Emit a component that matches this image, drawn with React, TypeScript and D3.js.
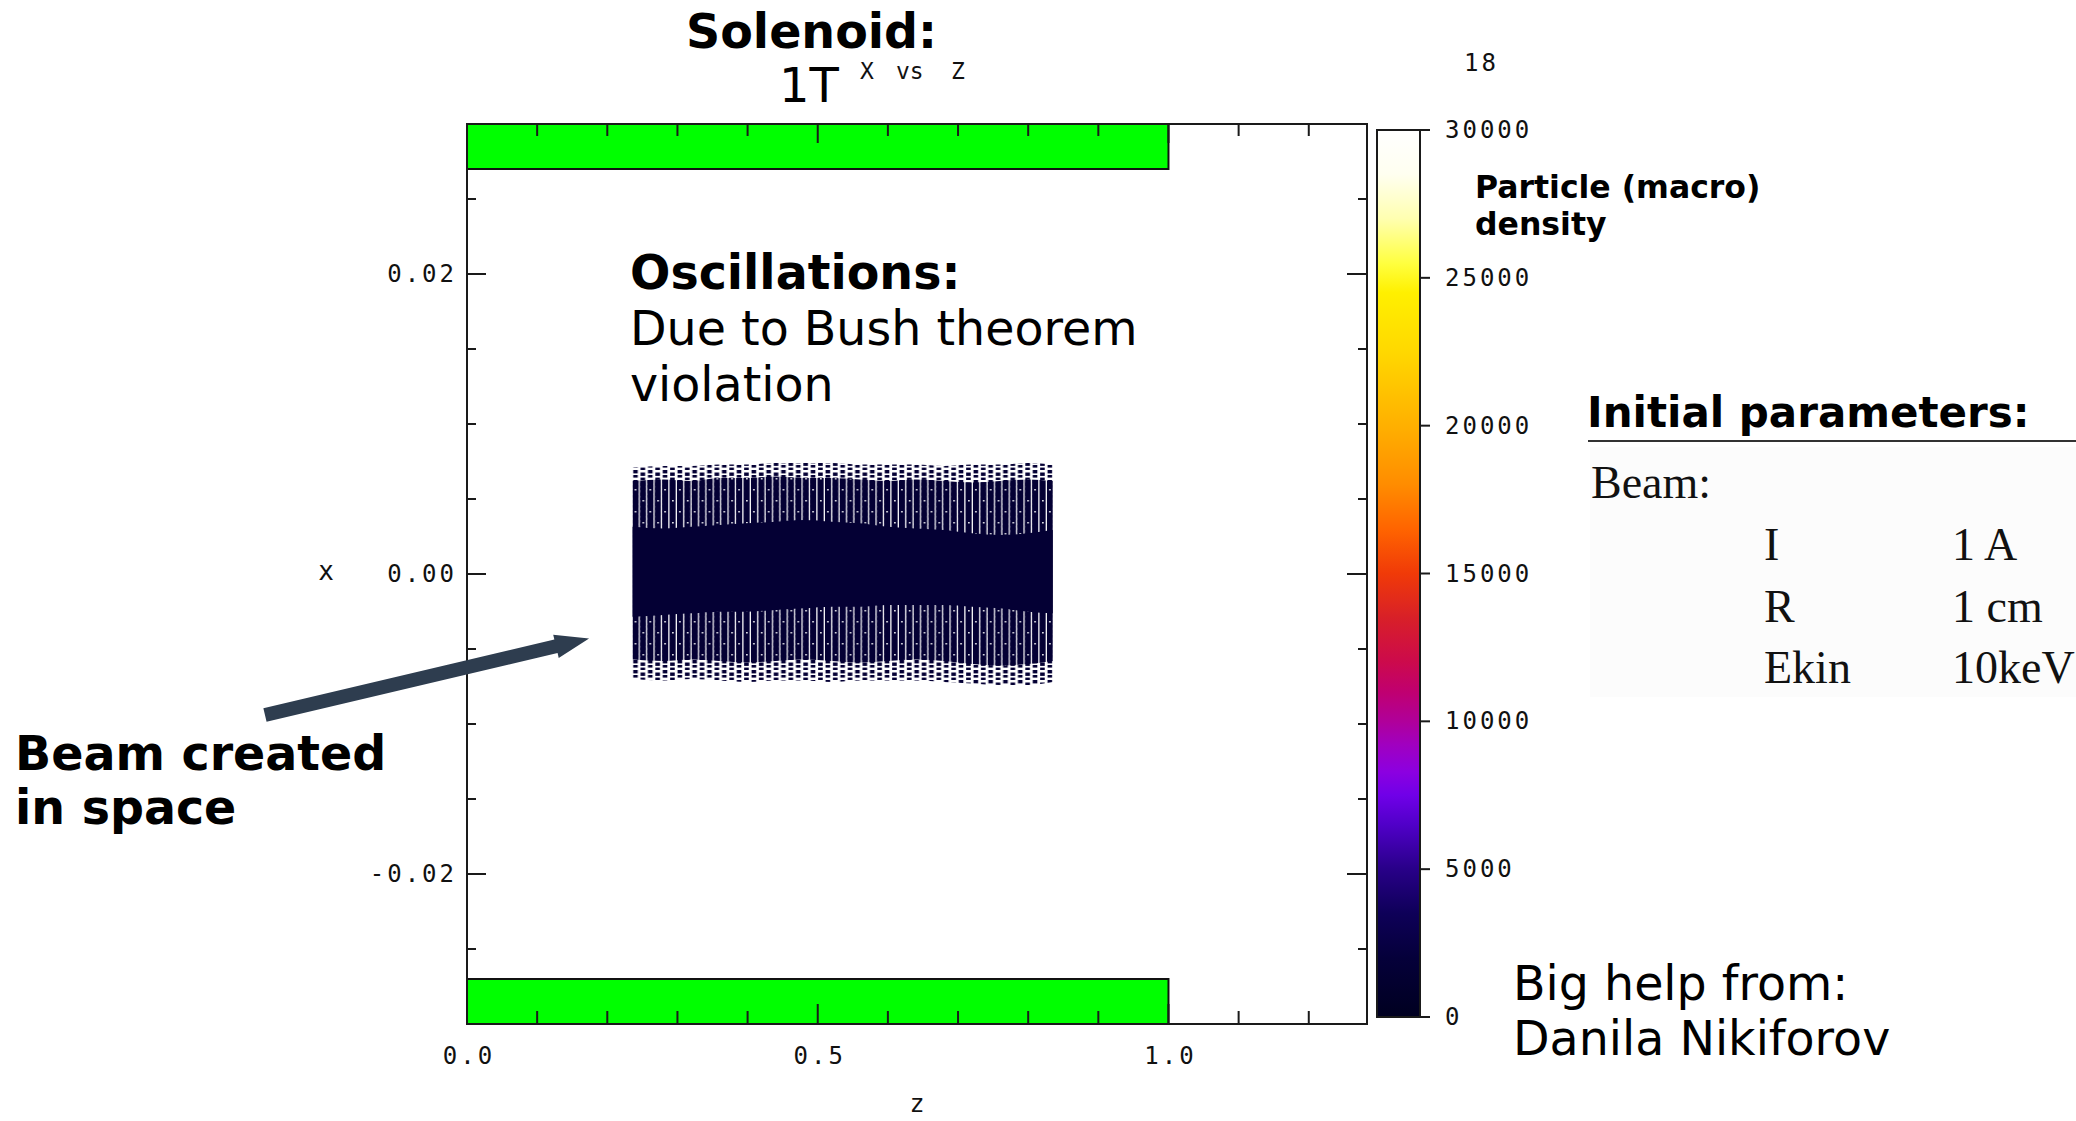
import React from "react";
import * as d3 from "d3";

// ---- axis ranges of the x–z particle plot ----
const zDomain = [0, 1.283];
const xDomain = [-0.03, 0.03];

const zMajorTicks = [0, 0.5, 1.0];
const zMajorLabels = ["0.0", "0.5", "1.0"];
const zMinorTicks = [0.1, 0.2, 0.3, 0.4, 0.6, 0.7, 0.8, 0.9, 1.1, 1.2];
const xMajorTicks = [-0.02, 0, 0.02];
const xMajorLabels = ["-0.02", "0.00", "0.02"];
const xMinorTicks = [-0.03, -0.025, -0.015, -0.01, -0.005, 0.005, 0.01, 0.015, 0.025, 0.03];

// ---- solenoid coil cross-section (z extent, radial extent) ----
const coilZ = [0, 1.0];
const coilR = [0.027, 0.03];

// ---- beam envelope sampled along z ----
const beamZ = [0.236, 0.28, 0.32, 0.36, 0.4, 0.44, 0.48, 0.52, 0.56, 0.6, 0.64, 0.68, 0.72, 0.76, 0.8, 0.835];
const coreTop = [0.00315, 0.00304, 0.00315, 0.00327, 0.00338, 0.00349, 0.0036, 0.00349, 0.00338, 0.00315, 0.00304, 0.00293, 0.00271, 0.0026, 0.00271, 0.00293];
const coreBottom = [-0.00285, -0.00273, -0.00262, -0.00251, -0.00251, -0.0024, -0.00229, -0.00218, -0.00218, -0.00207, -0.00207, -0.00207, -0.00218, -0.00229, -0.00251, -0.00262];
const haloTop = [0.0062, 0.0063, 0.0062, 0.0064, 0.0064, 0.0065, 0.0064, 0.0064, 0.0063, 0.0062, 0.0063, 0.0062, 0.0061, 0.0062, 0.0063, 0.0062];
const haloBottom = [-0.0057, -0.0058, -0.0057, -0.0058, -0.0059, -0.0058, -0.0057, -0.0058, -0.0059, -0.0058, -0.0057, -0.0058, -0.006, -0.0061, -0.006, -0.0058];
const edgeTop = [0.0071, 0.0072, 0.0072, 0.0073, 0.0073, 0.0074, 0.0074, 0.0074, 0.0073, 0.0073, 0.0073, 0.0072, 0.0073, 0.0073, 0.0074, 0.0073];
const edgeBottom = [-0.007, -0.0071, -0.007, -0.0071, -0.0072, -0.0071, -0.0071, -0.0072, -0.0071, -0.0071, -0.0071, -0.0072, -0.0073, -0.0074, -0.0074, -0.0072];
const beamDensity = 1500;

// ---- density colour map ----
const paletteValues = [0, 2000, 3500, 5000, 6500, 7500, 8300, 9200, 10000, 11000, 12000, 13500, 15000, 16500, 18000, 20000, 22500, 24500, 25500, 27000, 28500, 30000];
const paletteColors = ["#000020", "#05003a", "#0e0058", "#280088", "#5000c8", "#7000e8", "#8c00e0", "#a000c0", "#b0009a", "#c00070", "#cc0a4c", "#d82028", "#f03a08", "#ff6400", "#ff8c00", "#ffb000", "#ffd800", "#fff000", "#ffff40", "#ffffb0", "#fffff0", "#ffffff"];
const colorbarTicks = [0, 5000, 10000, 15000, 20000, 25000, 30000];
const colorbarDomain = [0, 30000];

// ---- annotation arrow (data coordinates z, x) ----
const arrowFrom = [-0.288, -0.0094];
const arrowTo = [0.174, -0.0043];

// ---- parameter table ----
const paramNames = ["I", "R", "Ekin"];
const paramValues = ["1 A", "1 cm", "10keV"];

const W = 2076;
const H = 1121;
const plot = { left: 467, right: 1367, top: 124, bottom: 1024 };
const cbar = { left: 1377, right: 1420, top: 130, bottom: 1017 };

const MONO = "'DejaVu Sans Mono', monospace";
const SANS = "'DejaVu Sans', sans-serif";
const SERIF = "'Liberation Serif', serif";

export default function App() {
  const zScale = d3.scaleLinear().domain(zDomain).range([plot.left, plot.right]);
  const xScale = d3.scaleLinear().domain(xDomain).range([plot.bottom, plot.top]);
  const cScale = d3.scaleLinear().domain(colorbarDomain).range([cbar.bottom, cbar.top]);
  const palette = d3
    .scaleLinear<string>()
    .domain(paletteValues)
    .range(paletteColors)
    .interpolate(d3.interpolateRgb);
  const beamColor = palette(beamDensity);

  const idx = beamZ.map((_, i) => i);
  const band = (top: number[], bot: number[]) =>
    d3
      .area<number>()
      .x((i) => zScale(beamZ[i]))
      .y0((i) => xScale(bot[i]))
      .y1((i) => xScale(top[i]))
      .curve(d3.curveMonotoneX)(idx) || "";

  const edgePath = band(edgeTop, edgeBottom);
  const haloPath = band(haloTop, haloBottom);
  const corePath = band(coreTop, coreBottom);

  // arrow polygon
  const p0 = [zScale(arrowFrom[0]), xScale(arrowFrom[1])];
  const p1 = [zScale(arrowTo[0]), xScale(arrowTo[1])];
  const len = Math.hypot(p1[0] - p0[0], p1[1] - p0[1]);
  const u = [(p1[0] - p0[0]) / len, (p1[1] - p0[1]) / len];
  const n = [-u[1], u[0]];
  const headLen = 34;
  const shaftHalf = 7;
  const headHalf = 12;
  const b = [p1[0] - u[0] * headLen, p1[1] - u[1] * headLen];
  const pt = (p: number[], k: number) => `${p[0] + n[0] * k},${p[1] + n[1] * k}`;
  const arrowPts = [pt(p0, shaftHalf), pt(b, shaftHalf), pt(b, headHalf), `${p1[0]},${p1[1]}`, pt(b, -headHalf), pt(b, -shaftHalf), pt(p0, -shaftHalf)].join(" ");

  const tickStroke = "#1a1a1a";
  const beamX0 = zScale(beamZ[0]);

  return (
    <svg
      width={W}
      height={H}
      viewBox={`0 0 ${W} ${H}`}
      style={{ position: "absolute", left: 0, top: 0, display: "block", background: "#ffffff" }}
    >
      <defs>
        <linearGradient id="cbarGrad" x1="0" y1="1" x2="0" y2="0">
          {paletteValues.map((v, i) => (
            <stop key={v} offset={v / colorbarDomain[1]} stopColor={paletteColors[i]} />
          ))}
        </linearGradient>
        <pattern id="haloPat" patternUnits="userSpaceOnUse" x={beamX0} y={0} width={14.8} height={22}>
          <rect x={0} y={0} width={6.1} height={22} fill={beamColor} />
          <rect x={7.4} y={0} width={6.1} height={22} fill={beamColor} />
          <rect x={2.2} y={5} width={1.5} height={1.5} fill="#ffffff" />
          <rect x={10} y={16} width={1.5} height={1.5} fill="#ffffff" />
        </pattern>
        <pattern id="edgePat" patternUnits="userSpaceOnUse" x={beamX0} y={0} width={14.8} height={10}>
          <rect x={0.6} y={0} width={4.6} height={3.4} fill={beamColor} />
          <rect x={0.6} y={5} width={4.6} height={2.6} fill={beamColor} />
          <rect x={8} y={2.5} width={4.6} height={3.4} fill={beamColor} />
          <rect x={8} y={7.6} width={4.6} height={2.4} fill={beamColor} />
        </pattern>
      </defs>

      {/* titles */}
      <text x={686} y={48} fontFamily={SANS} fontWeight="bold" fontSize={47.5} fill="#000">Solenoid:</text>
      <text x={779} y={102} fontFamily={SANS} fontSize={48} fill="#000">1T</text>
      <g fontFamily={MONO} fontSize={23} fill="#111">
        <text x={860} y={79}>X</text>
        <text x={896} y={79}>vs</text>
        <text x={951} y={79}>Z</text>
      </g>

      {/* solenoid coils */}
      {[1, -1].map((s) => (
        <rect
          key={s}
          x={zScale(coilZ[0])}
          y={s > 0 ? xScale(coilR[1]) : xScale(-coilR[0])}
          width={zScale(coilZ[1]) - zScale(coilZ[0])}
          height={Math.abs(xScale(coilR[1]) - xScale(coilR[0]))}
          fill="#00ff00"
          stroke="#111"
          strokeWidth={2}
        />
      ))}

      {/* beam particles */}
      <path d={edgePath} fill="url(#edgePat)" />
      <path d={haloPath} fill="url(#haloPat)" />
      <path d={corePath} fill={beamColor} />

      {/* frame */}
      <rect x={plot.left} y={plot.top} width={plot.right - plot.left} height={plot.bottom - plot.top} fill="none" stroke={tickStroke} strokeWidth={2} />

      {/* z ticks (top and bottom, inward) */}
      <g stroke={tickStroke} strokeWidth={2}>
        {zMinorTicks.map((t) => (
          <g key={"zm" + t}>
            <line x1={zScale(t)} x2={zScale(t)} y1={plot.bottom} y2={plot.bottom - 13} />
            <line x1={zScale(t)} x2={zScale(t)} y1={plot.top} y2={plot.top + 12} />
          </g>
        ))}
        {zMajorTicks.map((t) => (
          <g key={"zM" + t}>
            <line x1={zScale(t)} x2={zScale(t)} y1={plot.bottom} y2={plot.bottom - 20} />
            <line x1={zScale(t)} x2={zScale(t)} y1={plot.top} y2={plot.top + 19} />
          </g>
        ))}
        {xMinorTicks.map((t) => (
          <g key={"xm" + t}>
            <line x1={plot.left} x2={plot.left + 9} y1={xScale(t)} y2={xScale(t)} />
            <line x1={plot.right} x2={plot.right - 9} y1={xScale(t)} y2={xScale(t)} />
          </g>
        ))}
        {xMajorTicks.map((t) => (
          <g key={"xM" + t}>
            <line x1={plot.left} x2={plot.left + 19} y1={xScale(t)} y2={xScale(t)} />
            <line x1={plot.right} x2={plot.right - 20} y1={xScale(t)} y2={xScale(t)} />
          </g>
        ))}
      </g>

      {/* tick labels */}
      <g fontFamily={MONO} fontSize={24} fill="#111" letterSpacing={3}>
        {xMajorTicks.map((t, i) => (
          <text key={"xl" + t} x={457} y={xScale(t)} textAnchor="end" dominantBaseline="central">
            {xMajorLabels[i]}
          </text>
        ))}
        {zMajorTicks.map((t, i) => (
          <text key={"zl" + t} x={zScale(t) + 2} y={1056} textAnchor="middle" dominantBaseline="central">
            {zMajorLabels[i]}
          </text>
        ))}
      </g>
      <text x={326} y={571} fontFamily={MONO} fontSize={26} fill="#111" textAnchor="middle" dominantBaseline="central">x</text>
      <text x={917} y={1103} fontFamily={MONO} fontSize={25} fill="#111" textAnchor="middle" dominantBaseline="central">z</text>

      {/* colour bar */}
      <rect x={cbar.left} y={cbar.top} width={cbar.right - cbar.left} height={cbar.bottom - cbar.top} fill="url(#cbarGrad)" stroke={tickStroke} strokeWidth={2} />
      <g stroke={tickStroke} strokeWidth={2}>
        {colorbarTicks.map((t) => (
          <line key={"ct" + t} x1={cbar.right} x2={cbar.right + 10} y1={cScale(t)} y2={cScale(t)} />
        ))}
      </g>
      <g fontFamily={MONO} fontSize={24} fill="#111" letterSpacing={3}>
        {colorbarTicks.map((t) => (
          <text key={"cl" + t} x={1445} y={cScale(t)} dominantBaseline="central">{t}</text>
        ))}
        <text x={1464} y={63} dominantBaseline="central">18</text>
      </g>
      <g fontFamily={SANS} fontWeight="bold" fontSize={31.5} fill="#000">
        <text x={1475} y={198}>Particle (macro)</text>
        <text x={1475} y={235}>density</text>
      </g>

      {/* annotations */}
      <g fontFamily={SANS} fill="#000">
        <text x={630} y={289} fontWeight="bold" fontSize={47.5}>Oscillations:</text>
        <text x={630} y={345} fontSize={47.5}>Due to Bush theorem</text>
        <text x={630} y={401} fontSize={47.5}>violation</text>
        <text x={15} y={770} fontWeight="bold" fontSize={47.5}>Beam created</text>
        <text x={15} y={824} fontWeight="bold" fontSize={47.5}>in space</text>
        <text x={1513} y={1000} fontSize={47.5}>Big help from:</text>
        <text x={1513} y={1055} fontSize={47.5}>Danila Nikiforov</text>
      </g>
      <polygon points={arrowPts} fill="#2e3d4f" />

      {/* initial parameters table */}
      <rect x={1590} y={447} width={486} height={250} fill="#fcfcfc" />
      <text x={1587} y={427} fontFamily={SANS} fontWeight="bold" fontSize={42} fill="#000">Initial parameters:</text>
      <line x1={1588} x2={W} y1={441} y2={441} stroke="#333" strokeWidth={2} />
      <g fontFamily={SERIF} fontSize={46} fill="#111">
        <text x={1591} y={498}>Beam:</text>
        {paramNames.map((p, i) => (
          <g key={p}>
            <text x={1764} y={560 + i * 61.5}>{p}</text>
            <text x={1952} y={560 + i * 61.5}>{paramValues[i]}</text>
          </g>
        ))}
      </g>
    </svg>
  );
}
